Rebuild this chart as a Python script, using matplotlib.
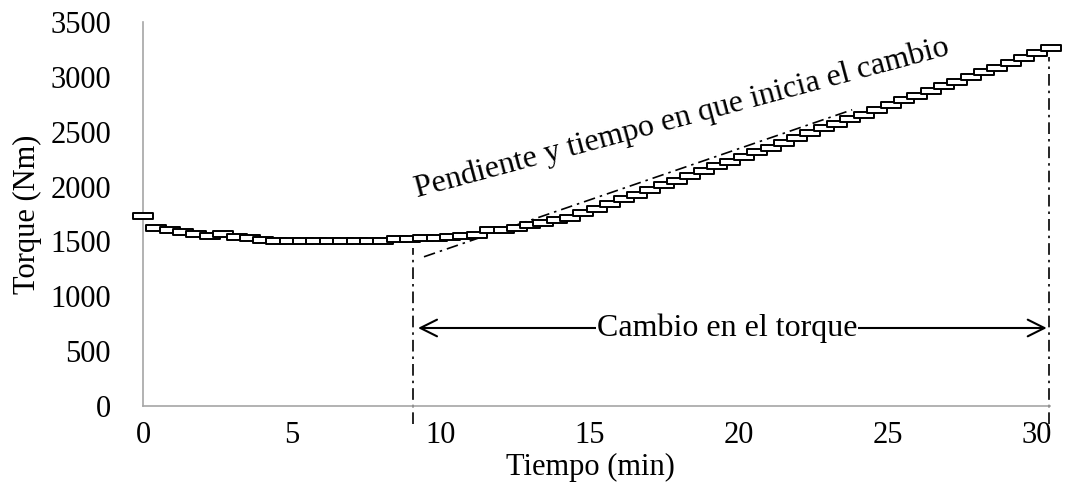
import matplotlib
matplotlib.use("Agg")
import matplotlib.pyplot as plt
from matplotlib.path import Path

plt.rcParams['font.family'] = ['Liberation Serif', 'DejaVu Serif']

# ---- data ----
tiempo = [0.00, 0.45, 0.90, 1.34, 1.79, 2.24, 2.69, 3.14, 3.58, 4.03,
          4.48, 4.93, 5.38, 5.82, 6.27, 6.72, 7.17, 7.62, 8.06, 8.51,
          8.96, 9.41, 9.86, 10.30, 10.75, 11.20, 11.65, 12.10, 12.54, 12.99,
          13.44, 13.89, 14.34, 14.78, 15.23, 15.68, 16.13, 16.58, 17.02, 17.47,
          17.92, 18.37, 18.82, 19.26, 19.71, 20.16, 20.61, 21.06, 21.50, 21.95,
          22.40, 22.85, 23.30, 23.74, 24.19, 24.64, 25.09, 25.54, 25.98, 26.43,
          26.88, 27.33, 27.78, 28.22, 28.67, 29.12, 29.57, 30.02, 30.46]
torque = [1735, 1620, 1600, 1585, 1565, 1550, 1565, 1540, 1530, 1515,
          1508, 1508, 1508, 1508, 1508, 1508, 1508, 1508, 1508, 1520,
          1525, 1530, 1535, 1540, 1545, 1555, 1600, 1605, 1625, 1650,
          1670, 1695, 1715, 1755, 1795, 1840, 1885, 1925, 1970, 2010,
          2055, 2095, 2140, 2185, 2225, 2270, 2315, 2355, 2400, 2440,
          2485, 2530, 2570, 2615, 2655, 2700, 2745, 2785, 2830, 2870,
          2915, 2955, 3000, 3040, 3085, 3125, 3170, 3215, 3260]

x_ticks = [0, 5, 10, 15, 20, 25, 30]
y_ticks = [0, 500, 1000, 1500, 2000, 2500, 3000, 3500]

inicio_cambio = 9.06
fin_cambio = 30.42
pendiente_x = [9.43, 23.8]
pendiente_y = [1360, 2700]
flecha_y = 711
flecha_x = [9.23, 30.33]

# ---- figure ----
W, H = 1071, 488
fig = plt.figure(figsize=(W / 100, H / 100), dpi=100)
ax = fig.add_axes([143 / W, 1 - 406 / H, (1050 - 143) / W, (406 - 22) / H])

rect = Path([(-1, -0.27), (1, -0.27), (1, 0.27), (-1, 0.27), (-1, -0.27)],
            [Path.MOVETO, Path.LINETO, Path.LINETO, Path.LINETO, Path.CLOSEPOLY])
ax.plot(tiempo, torque, linestyle='none', marker=rect, markersize=14,
        markerfacecolor='white', markeredgecolor='black', markeredgewidth=1.4,
        clip_on=False, zorder=3)

ax.set_xlim(0, 30.44)
ax.set_ylim(0, 3500)
ax.set_xticks(x_ticks)
ax.set_yticks(y_ticks)
ax.tick_params(axis='both', length=0, labelsize=22)
ax.tick_params(axis='x', pad=11)
ax.tick_params(axis='y', pad=23)
for s in ['top', 'right']:
    ax.spines[s].set_visible(False)
for s in ['left', 'bottom']:
    ax.spines[s].set_color('#a6a6a6')
    ax.spines[s].set_linewidth(1.2)

fig.text(590 / W, 1 - 467 / H, 'Tiempo (min)', fontsize=22,
         ha='center', va='center')
fig.text(27 / W, 1 - 214 / H, 'Torque (Nm)', fontsize=22, rotation=90,
         ha='center', va='center')

dashdot = (0, (7, 3, 1.5, 3))
ax.plot([inicio_cambio, inicio_cambio], [-160, 1440], color='black', lw=1.2,
        linestyle=dashdot, clip_on=False)
ax.plot([fin_cambio, fin_cambio], [-160, 3180], color='black', lw=1.2,
        linestyle=dashdot, clip_on=False)
ax.plot(pendiente_x, pendiente_y, color='black', lw=1.2, linestyle=dashdot)

ax.annotate('', xy=(flecha_x[0], flecha_y), xytext=(flecha_x[1], flecha_y),
            arrowprops=dict(arrowstyle='<->', lw=1.5, color='black',
                            mutation_scale=30, shrinkA=0, shrinkB=0))
ax.text(19.6, flecha_y, 'Cambio en el torque', fontsize=23, ha='center',
        va='center', bbox=dict(facecolor='white', edgecolor='none', pad=0.5))

ax.text(9.19, 1905, 'Pendiente y tiempo en que inicia el cambio', fontsize=23,
        rotation=15, rotation_mode='anchor', ha='left', va='baseline')

fig.savefig('out.png', dpi=100)
